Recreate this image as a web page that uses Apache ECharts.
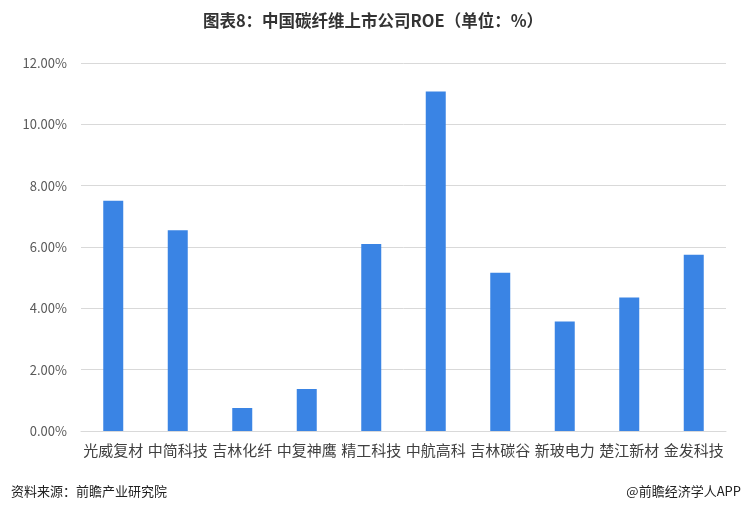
<!DOCTYPE html>
<html>
<head>
<meta charset="utf-8">
<script src="https://cdn.jsdelivr.net/npm/echarts@6/dist/echarts.min.js"></script>
<style>
  html, body { margin: 0; padding: 0; background: #fff; }
  #chart { width: 746px; height: 511px; }
</style>
</head>
<body>
<div id="chart"></div>
<script>
// 公司名称
const companies = ['光威复材', '中简科技', '吉林化纤', '中复神鹰', '精工科技', '中航高科', '吉林碳谷', '新玻电力', '楚江新材', '金发科技'];
// ROE（%）
const roe = [7.51, 6.55, 0.75, 1.37, 6.10, 11.07, 5.16, 3.57, 4.35, 5.75];

const titleText = '图表8：中国碳纤维上市公司ROE（单位：%）';
const sourceText = '资料来源：前瞻产业研究院';
const brandText = '@前瞻经济学人APP';

const font = '"Noto Sans CJK SC", "Noto Sans", sans-serif';

const chart = echarts.init(document.getElementById('chart'));

const option = {
  backgroundColor: '#fff',
  animation: false,
  title: [
    {
      text: titleText,
      left: 'center',
      top: 7,
      textStyle: { fontFamily: font, fontSize: 16.5, fontWeight: 'bold', color: '#333' }
    },
    {
      text: sourceText,
      left: 6,
      top: 480,
      textStyle: { fontFamily: font, fontSize: 13, fontWeight: 'normal', color: '#222' }
    },
    {
      text: brandText,
      right: 0,
      top: 480,
      textStyle: { fontFamily: font, fontSize: 13, fontWeight: 'normal', color: '#222' }
    }
  ],
  grid: {
    left: 81,
    right: 20,
    top: 63,
    bottom: 80,
    containLabel: false
  },
  xAxis: {
    type: 'category',
    data: companies,
    axisLine: { lineStyle: { color: '#d9d9d9' } },
    axisTick: { show: false },
    axisLabel: {
      interval: 0,
      margin: 12,
      fontFamily: font,
      fontSize: 15,
      color: '#404040'
    }
  },
  yAxis: {
    type: 'value',
    min: 0,
    max: 12,
    interval: 2,
    axisLine: { show: false },
    axisTick: { show: false },
    splitLine: { lineStyle: { color: '#d9d9d9' } },
    axisLabel: {
      margin: 14,
      fontFamily: font,
      fontSize: 13,
      color: '#595959',
      formatter: v => v.toFixed(2) + '%'
    }
  },
  series: [
    {
      name: 'ROE',
      type: 'bar',
      data: roe,
      barWidth: '31%',
      itemStyle: { color: '#3a84e4' }
    }
  ]
};

chart.setOption(option);
</script>
</body>
</html>
